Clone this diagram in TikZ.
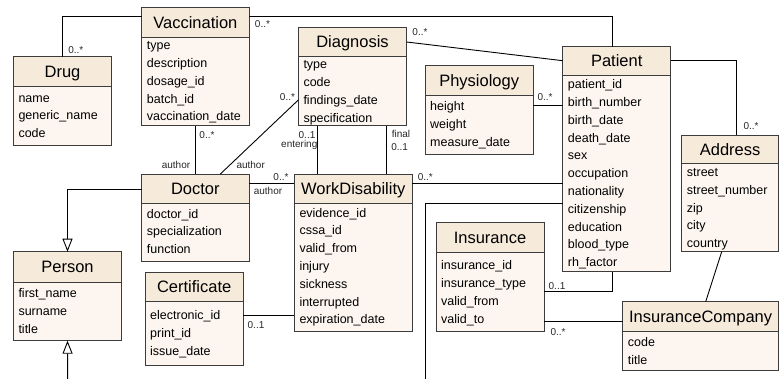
\documentclass[tikz,border=0pt]{standalone}
\usepackage{fontspec}
\setmainfont{Liberation Sans}
\usetikzlibrary{arrows.meta}

\definecolor{headfill}{RGB}{246,234,218}
\definecolor{bodyfill}{RGB}{253,246,240}
\definecolor{edgegray}{RGB}{60,60,60}

\tikzset{
  classbox/.style={draw=edgegray, fill=bodyfill, line width=0.9pt, inner sep=0pt, outer sep=0pt},
  border/.style={draw=edgegray, line width=0.9pt},
  titletext/.style={anchor=base, inner sep=0pt, font=\fontsize{16.5}{18}\selectfont},
  attrtext/.style={anchor=base west, inner sep=0pt, font=\fontsize{12.5}{14}\selectfont},
  mult/.style={anchor=base, inner sep=0pt, font=\fontsize{10}{11}\selectfont, text=black!85},
  assoc/.style={draw=black, line width=0.9pt},
  gen/.style={assoc, -{Triangle[length=13pt, width=10pt, fill=white]}},
}

% class box: name, left, right, top, header bottom, bottom, title, first attribute row, attributes
\newcommand\umlclass[9]{%
  \node[classbox, minimum width={(#3)-(#2)}, minimum height={(#6)-(#4)}]
       (#1) at ({(#2+#3)/2},{(#4+#6)/2}) {};
  \fill[headfill] (#1.north west) rectangle (#3,#5);
  \draw[border] (#1.north west) rectangle (#1.south east);
  \draw[border] (#2,#5) -- (#3,#5);
  \node[titletext] (#1-title) at ({(#2+#3)/2},{(#4+#5)/2+5.9}) {#7};
  \foreach \a [count=\i from 0] in {#9}
    \node[attrtext] (#1-attr-\i) at ({#2+5},{#8+\i*17.8+3.8}) {\a};
}

\begin{document}
\begin{tikzpicture}[x=1pt,y=-1pt]
\useasboundingbox (0,0) rectangle (779,379);

% classes
\umlclass{vacc}{141.7}{249}{7.3}{37.3}{125.7}{Vaccination}{46}{type,description,dosage\_id,batch\_id,vaccination\_date}
\umlclass{drug}{13.3}{111.7}{56.7}{86.7}{145}{Drug}{98.3}{name,generic\_name,code}
\umlclass{diag}{298.3}{406.7}{27.3}{56.7}{125.7}{Diagnosis}{65}{type,code,findings\_date,specification}
\umlclass{phys}{425}{533.3}{65.7}{95.7}{154.3}{Physiology}{106.7}{height,weight,measure\_date}
\umlclass{patient}{562.7}{670.7}{46.7}{75.3}{271.7}{Patient}{85}{patient\_id,birth\_number,birth\_date,death\_date,sex,occupation,nationality,citizenship,education,blood\_type,rh\_factor}
\umlclass{address}{681.7}{778.5}{135}{163.3}{251.7}{Address}{172.7}{street,street\_number,zip,city,country}
\umlclass{doctor}{141.7}{249}{174}{203.3}{261.7}{Doctor}{214.3}{doctor\_id,specialization,function}
\umlclass{wd}{294.3}{412.3}{174}{203.3}{331.7}{WorkDisability}{213.3}{evidence\_id,cssa\_id,valid\_from,injury,sickness,interrupted,expiration\_date}
\umlclass{person}{13.3}{121.7}{251.7}{282.3}{340.7}{Person}{294}{first\_name,surname,title}
\umlclass{cert}{145}{243.3}{272.3}{301}{365}{Certificate}{315.7}{electronic\_id,print\_id,issue\_date}
\umlclass{ins}{436}{544}{222.7}{252.3}{331}{Insurance}{266}{insurance\_id,insurance\_type,valid\_from,valid\_to}
\umlclass{ic}{622.7}{778.5}{301.7}{331.7}{370}{InsuranceCompany}{342.7}{code,title}

% free ends leaving the sheet
\coordinate (pbot) at (67.7,379);
\coordinate (patbot) at (425.7,379);

% associations
\draw[assoc] (drug.north) |- ([yshift=-8.7pt]vacc.north west);
\draw[assoc] ([yshift=-8.7pt]vacc.north east) -| ([xshift=-4pt]patient.north);
\draw[assoc] (vacc.south) -- (doctor.north);
\draw[assoc] ([xshift=25pt]doctor.north) -- ([yshift=-72.7pt]diag.north west);
\draw[assoc] ([yshift=-9.3pt]doctor.north east) coordinate (dw) -- (dw -| wd.west);
\draw[assoc] ([yshift=-14.7pt]diag.north east) -- ([yshift=-14pt]patient.north west);
\draw[assoc] ([yshift=-39.3pt]phys.north east) coordinate (pp) -- (pp -| patient.west);
\draw[assoc] ([xshift=-34.8pt]diag.south) coordinate (de) -- (de |- wd.north);
\draw[assoc] ([xshift=34.2pt]diag.south) coordinate (df) -- (df |- wd.north);
\draw[assoc] ([yshift=-9.3pt]wd.north east) coordinate (wp) -- (wp -| patient.west);
\draw[assoc] ([yshift=-14pt]patient.north east) -| ([xshift=6pt]address.north);
\draw[assoc] ([yshift=-156.6pt]patient.north west) -| (patbot);
\draw[assoc] ([yshift=-69pt]ins.north east) -| ([xshift=-4pt]patient.south);
\draw[assoc] ([yshift=-98.3pt]ins.north east) coordinate (ii) -- (ii -| ic.west);
\draw[assoc] ([xshift=-8.4pt]address.south) -- ([xshift=5.1pt]ic.north);
\draw[assoc] ([yshift=-43.4pt]cert.north east) coordinate (cw) -- (cw -| wd.west);

% generalizations
\draw[gen] ([yshift=-15pt]doctor.north west) -| (person.north);
\draw[gen] (pbot) -- (person.south);

% multiplicities and roles
\node[mult] (m-drug) at (75.8,53.4) {0..*};
\node[mult] (m-vtop) at (262.5,27.4) {0..*};
\node[mult] (m-vbot) at (207,138.4) {0..*};
\node[mult] (r-vd) at (176,168.4) {author};
\node[mult] (r-dd) at (250.7,168.4) {author};
\node[mult] (m-dd) at (287.5,100.1) {0..*};
\node[mult] (m-dw) at (281,180.1) {0..*};
\node[mult] (r-dw) at (268,194.1) {author};
\node[mult] (m-dp) at (420,35.7) {0..*};
\node[mult] (m-pp) at (545,100.7) {0..*};
\node[mult] (m-ent) at (307,138.4) {0..1};
\node[mult] (r-ent) at (299.3,147.7) {entering};
\node[mult] (r-fin) at (401,137.7) {final};
\node[mult] (m-fin) at (399.7,150.1) {0..1};
\node[mult] (m-wp) at (425.3,180.1) {0..*};
\node[mult] (m-pa) at (751,129.4) {0..*};
\node[mult] (m-ip) at (557,289.4) {0..1};
\node[mult] (m-ic) at (558,335.1) {0..*};
\node[mult] (m-cw) at (256,328.4) {0..1};
\end{tikzpicture}
\end{document}
